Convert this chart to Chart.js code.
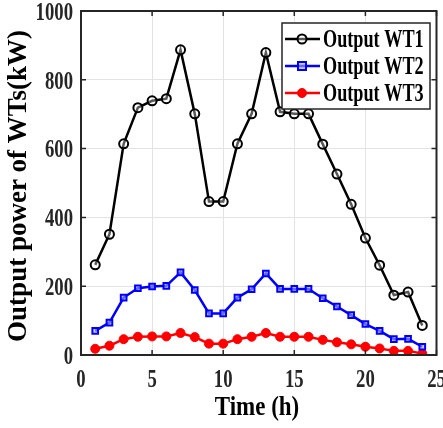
<!DOCTYPE html>
<html>
<head>
<meta charset="utf-8">
<script src="https://cdn.jsdelivr.net/npm/chart.js@4"></script>
<style>
  html, body { margin: 0; padding: 0; background: #fff; }
  #wrap { width: 443px; height: 428px; }
</style>
</head>
<body>
<div id="wrap"><canvas id="wtChart" width="443" height="428"></canvas></div>
<script>
const hours = [1,2,3,4,5,6,7,8,9,10,11,12,13,14,15,16,17,18,19,20,21,22,23,24];
const wt1 = [262,351,614,719,739,745,887,701,446,446,614,701,879,707,701,701,613,526,438,340,261,174,183,86];
const wt2 = [70,94,167,194,199,201,240,189,121,121,167,191,237,192,192,192,165,141,116,90,70,46,47,24];
const wt3 = [18,27,46,53,54,54,64,52,33,33,46,53,64,53,53,53,44,37,31,24,19,12,12,4];
const xTicks = [0,5,10,15,20,25];
const yTicks = [0,200,400,600,800,1000];
const xTitle = 'Time (h)';
const yTitle = 'Output power of WTs(kW)';

const serif = '"Liberation Serif", "Times New Roman", serif';
const ink = '#262626';

function pts(arr) { return hours.map((h, i) => ({ x: h, y: arr[i] })); }

// the original text is squeezed sideways, so draw it with a horizontal scale
function squeezed(ctx, text, x, y, size, sx, align) {
  ctx.save();
  ctx.font = 'bold ' + size + 'px ' + serif;
  ctx.translate(x, y);
  ctx.scale(sx, 1);
  ctx.textAlign = align;
  ctx.fillText(text, 0, 0);
  ctx.restore();
}

// box around the plot with inward tick marks, matlab style
const framePlugin = {
  id: 'frame',
  afterDatasetsDraw(chart) {
    const { ctx, chartArea: a, scales: { x, y } } = chart;
    ctx.save();
    ctx.strokeStyle = ink;
    ctx.lineWidth = 2;
    ctx.strokeRect(a.left, a.top, a.right - a.left, a.bottom - a.top);
    ctx.lineWidth = 1.5;
    x.ticks.forEach(t => {
      const px = x.getPixelForValue(t.value);
      ctx.beginPath();
      ctx.moveTo(px, a.bottom); ctx.lineTo(px, a.bottom - 5);
      ctx.moveTo(px, a.top); ctx.lineTo(px, a.top + 5);
      ctx.stroke();
    });
    y.ticks.forEach(t => {
      const py = y.getPixelForValue(t.value);
      ctx.beginPath();
      ctx.moveTo(a.left, py); ctx.lineTo(a.left + 5, py);
      ctx.moveTo(a.right, py); ctx.lineTo(a.right - 5, py);
      ctx.stroke();
    });
    ctx.restore();
  }
};

// tick labels and axis titles
const labelPlugin = {
  id: 'axisText',
  afterDraw(chart) {
    const { ctx, chartArea: a, scales: { x, y } } = chart;
    ctx.save();
    ctx.fillStyle = ink;
    ctx.textBaseline = 'middle';
    y.ticks.forEach(t => {
      squeezed(ctx, String(t.value), a.left - 8, y.getPixelForValue(t.value) + 2, 26, 0.72, 'right');
    });
    x.ticks.forEach(t => {
      squeezed(ctx, String(t.value), x.getPixelForValue(t.value), 380, 26, 0.72, 'center');
    });
    ctx.fillStyle = '#000';
    squeezed(ctx, xTitle, 257, 408, 28, 0.82, 'center');
    ctx.save();
    ctx.translate(19, 186);
    ctx.rotate(-Math.PI / 2);
    squeezed(ctx, yTitle, 0, 0, 27, 1, 'center');
    ctx.restore();
    ctx.restore();
  }
};

// legend box in the upper right of the plot
const legendPlugin = {
  id: 'boxLegend',
  afterDraw(chart) {
    const { ctx } = chart;
    const x0 = 282, y0 = 23, w = 148, h = 86;
    ctx.save();
    ctx.fillStyle = '#fff';
    ctx.fillRect(x0, y0, w, h);
    ctx.strokeStyle = ink;
    ctx.lineWidth = 1.5;
    ctx.strokeRect(x0, y0, w, h);
    ctx.textBaseline = 'middle';
    chart.data.datasets.forEach((ds, i) => {
      const cy = y0 + 16 + i * 27;
      ctx.strokeStyle = ds.borderColor;
      ctx.lineWidth = 2.5;
      ctx.beginPath();
      ctx.moveTo(x0 + 3, cy); ctx.lineTo(x0 + 38, cy);
      ctx.stroke();
      const mx = x0 + 20;
      ctx.lineWidth = ds.pointBorderWidth;
      ctx.fillStyle = ds.pointBackgroundColor;
      if (ds.pointStyle === 'rect') {
        const r = ds.pointRadius;
        ctx.fillRect(mx - r, cy - r, 2 * r, 2 * r);
        ctx.strokeRect(mx - r, cy - r, 2 * r, 2 * r);
      } else {
        ctx.beginPath();
        ctx.arc(mx, cy, ds.pointRadius, 0, Math.PI * 2);
        ctx.fill(); ctx.stroke();
      }
      ctx.fillStyle = '#000';
      squeezed(ctx, ds.label, x0 + 41, cy + 1, 26, 0.70, 'left');
    });
    ctx.restore();
  }
};

new Chart(document.getElementById('wtChart').getContext('2d'), {
  type: 'line',
  data: {
    datasets: [{
      label: 'Output WT1',
      data: pts(wt1),
      borderColor: '#000',
      borderWidth: 2.5,
      pointStyle: 'circle',
      pointRadius: 4.5,
      pointBorderWidth: 2,
      pointBackgroundColor: 'rgba(255,255,255,0.35)',
      pointBorderColor: '#000'
    }, {
      label: 'Output WT2',
      data: pts(wt2),
      borderColor: '#0000ff',
      borderWidth: 2.5,
      pointStyle: 'rect',
      pointRadius: 4,
      pointBorderWidth: 2,
      pointBackgroundColor: 'rgba(170,170,255,0.6)',
      pointBorderColor: '#0000ff'
    }, {
      label: 'Output WT3',
      data: pts(wt3),
      borderColor: '#ff0000',
      borderWidth: 2.5,
      pointStyle: 'circle',
      pointRadius: 4.5,
      pointBorderWidth: 1,
      pointBackgroundColor: '#ff0000',
      pointBorderColor: '#ff0000'
    }]
  },
  options: {
    responsive: false,
    animation: false,
    layout: { padding: { top: 11, right: 4, left: 0, bottom: 0 } },
    plugins: {
      legend: { display: false },
      tooltip: { enabled: false }
    },
    scales: {
      x: {
        type: 'linear',
        min: 0, max: 25,
        afterBuildTicks: s => { s.ticks = xTicks.map(v => ({ value: v })); },
        afterFit: s => { s.height = 73; },
        grid: { color: '#e3e3e3', lineWidth: 1, drawTicks: false },
        border: { display: false },
        ticks: { display: false }
      },
      y: {
        min: 0, max: 1000,
        afterBuildTicks: s => { s.ticks = yTicks.map(v => ({ value: v })); },
        afterFit: s => { s.width = 81; },
        grid: { color: '#e3e3e3', lineWidth: 1, drawTicks: false },
        border: { display: false },
        ticks: { display: false }
      }
    }
  },
  plugins: [framePlugin, labelPlugin, legendPlugin]
});
</script>
</body>
</html>
